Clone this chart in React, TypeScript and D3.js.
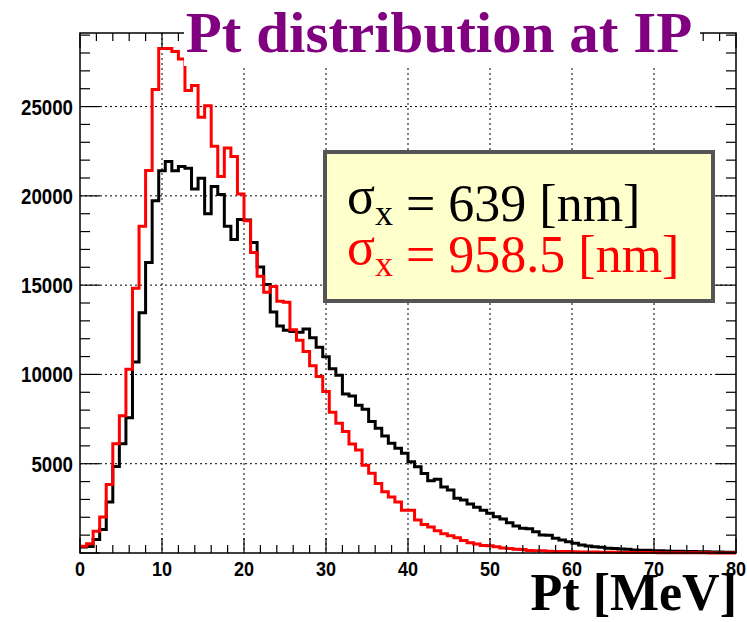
import React from 'react';
import * as d3 from 'd3';

const W = 747;
const H = 622;
const X_MIN = 0;
const X_MAX = 80;
const Y_MAX = 29120;

const xTicks = [0, 10, 20, 30, 40, 50, 60, 70, 80];
const yTicks = [5000, 10000, 15000, 20000, 25000];
const titleText = 'Pt distribution at IP';
const xLabel = 'Pt [MeV]';
const legendValues = ['639', '958.5'];
const legendColors = ['#000000', '#ff0000'];

// sigma_x = 639 nm (black), 100 bins of 0.8 MeV
const histBlack = [
  340, 360, 750, 1310, 2860, 4850, 6120, 7580, 10690, 13450,
  16270, 19730, 21410, 21930, 21410, 21650, 21540, 20380, 20980, 19000,
  20520, 20080, 18300, 17560, 18670, 18650, 17390, 16020, 15040, 13500,
  12710, 12480, 12410, 12360, 12540, 12060, 11520, 10990, 10320, 9950,
  8900, 8790, 8270, 8050, 7360, 6980, 6550, 6140, 5860, 5580,
  5110, 4830, 4450, 4050, 4130, 3690, 3530, 3060, 2970, 2740,
  2560, 2400, 2220, 2030, 1900, 1700, 1510, 1380, 1360, 1190,
  1010, 1000, 820, 730, 630, 540, 450, 390, 350, 320,
  270, 250, 220, 210, 170, 160, 150, 130, 120, 110,
  100, 95, 90, 80, 70, 65, 60, 50, 45, 40,
];

// sigma_x = 958.5 nm (red)
const histRed = [
  380, 520, 1220, 2010, 3830, 6120, 7680, 10290, 14820, 18300,
  21420, 25950, 28250, 28250, 28080, 27670, 25900, 26180, 24400, 25050,
  22780, 21080, 22680, 22200, 20100, 18600, 16830, 15500, 14600, 14930,
  14100, 14040, 12500, 11920, 11290, 10490, 9890, 9045, 7880, 7270,
  6800, 6100, 5770, 4920, 4460, 3890, 3430, 3140, 2860, 2400,
  2390, 1850, 1600, 1450, 1250, 1080, 960, 850, 700, 580,
  500, 420, 400, 350, 280, 250, 210, 190, 140, 130,
  120, 100, 90, 85, 80, 70, 60, 55, 50, 45,
  40, 38, 35, 32, 30, 28, 25, 22, 20, 18,
  16, 14, 12, 10, 9, 8, 7, 6, 5, 5,
];

export default function App() {
  const left = 80;
  const right = 736;
  const top = 33;
  const bottom = 553;
  const x = d3.scaleLinear().domain([X_MIN, X_MAX]).range([left, right]);
  const y = d3.scaleLinear().domain([0, Y_MAX]).range([bottom, top]);

  const histPath = (vals: number[]) => {
    const bw = (X_MAX - X_MIN) / vals.length;
    const pts: [number, number][] = [];
    vals.forEach((v, i) => {
      pts.push([x(X_MIN + i * bw), y(v)]);
      pts.push([x(X_MIN + (i + 1) * bw), y(v)]);
    });
    return d3.line()(pts) || '';
  };

  const xMinor = d3.range(X_MIN, X_MAX + 0.001, 2);
  const yMinor = d3.range(0, Y_MAX, 1000);
  const gridX = xTicks.filter((t) => t > X_MIN && t < X_MAX);

  const sans = 'Liberation Sans, Arial, sans-serif';
  const serif = 'Liberation Serif, Times New Roman, serif';

  return (
    <svg
      width={W}
      height={H}
      style={{ position: 'absolute', left: 0, top: 0, background: '#fff' }}
    >
      <rect x={0} y={0} width={W} height={H} fill="#fff" />

      {/* grid */}
      {gridX.map((t) => (
        <line key={'gx' + t} x1={x(t)} x2={x(t)} y1={top} y2={bottom}
          stroke="#000" strokeWidth={1} strokeDasharray="2,3" />
      ))}
      {yTicks.map((t) => (
        <line key={'gy' + t} x1={left} x2={right} y1={y(t)} y2={y(t)}
          stroke="#000" strokeWidth={1} strokeDasharray="2,3" />
      ))}

      {/* histograms */}
      <path d={histPath(histBlack)} fill="none" stroke="#000" strokeWidth={3} />
      <path d={histPath(histRed)} fill="none" stroke="#ff0000" strokeWidth={3} />

      {/* frame */}
      <rect x={left} y={top} width={right - left} height={bottom - top}
        fill="none" stroke="#000" strokeWidth={1.5} />

      {/* x ticks */}
      {xMinor.map((t) => {
        const major = t % 10 === 0;
        const len = major ? 15 : 8;
        return (
          <g key={'xt' + t}>
            <line x1={x(t)} x2={x(t)} y1={bottom} y2={bottom - len} stroke="#000" strokeWidth={1.2} />
            <line x1={x(t)} x2={x(t)} y1={top} y2={top + len} stroke="#000" strokeWidth={1.2} />
          </g>
        );
      })}
      {/* y ticks */}
      {yMinor.map((t) => {
        const major = t % 5000 === 0;
        const len = major ? 20 : 10;
        return (
          <g key={'yt' + t}>
            <line x1={left} x2={left + len} y1={y(t)} y2={y(t)} stroke="#000" strokeWidth={1.2} />
            <line x1={right} x2={right - len} y1={y(t)} y2={y(t)} stroke="#000" strokeWidth={1.2} />
          </g>
        );
      })}

      {/* tick labels */}
      {xTicks.map((t) => (
        <text key={'xl' + t} transform={`translate(${x(t)},576) scale(0.86,1)`} textAnchor="middle"
          fontFamily={sans} fontWeight="bold" fontSize={21} fill="#000">{t}</text>
      ))}
      {yTicks.map((t) => (
        <text key={'yl' + t} transform={`translate(73,${y(t) + 8}) scale(0.85,1)`} textAnchor="end"
          fontFamily={sans} fontWeight="bold" fontSize={22} fill="#000">{t}</text>
      ))}

      {/* title */}
      <rect x={184} y={0} width={516} height={66} fill="#fff" />
      <text transform="translate(439,52) scale(1.035,1)" textAnchor="middle" fontFamily={serif}
        fontWeight="bold" fontSize={57} fill="#800080">{titleText}</text>

      {/* x axis label */}
      <text x={737} y={610} textAnchor="end" fontFamily={serif} fontWeight="bold"
        fontSize={52} fill="#000">{xLabel}</text>

      {/* legend */}
      <rect x={325} y={152} width={388} height={149} fill="#ffffcc" stroke="#555" strokeWidth={4} />
      {legendValues.map((v, i) => (
        <text key={'lg' + i} x={347} y={221 + i * 51} fontFamily={serif} fontSize={52}
          fill={legendColors[i]}>
          <tspan dy={-8}>σ</tspan>
          <tspan dy={12} fontSize={36}>x</tspan>
          <tspan dy={-4}>{' = ' + v + ' [nm]'}</tspan>
        </text>
      ))}
    </svg>
  );
}
